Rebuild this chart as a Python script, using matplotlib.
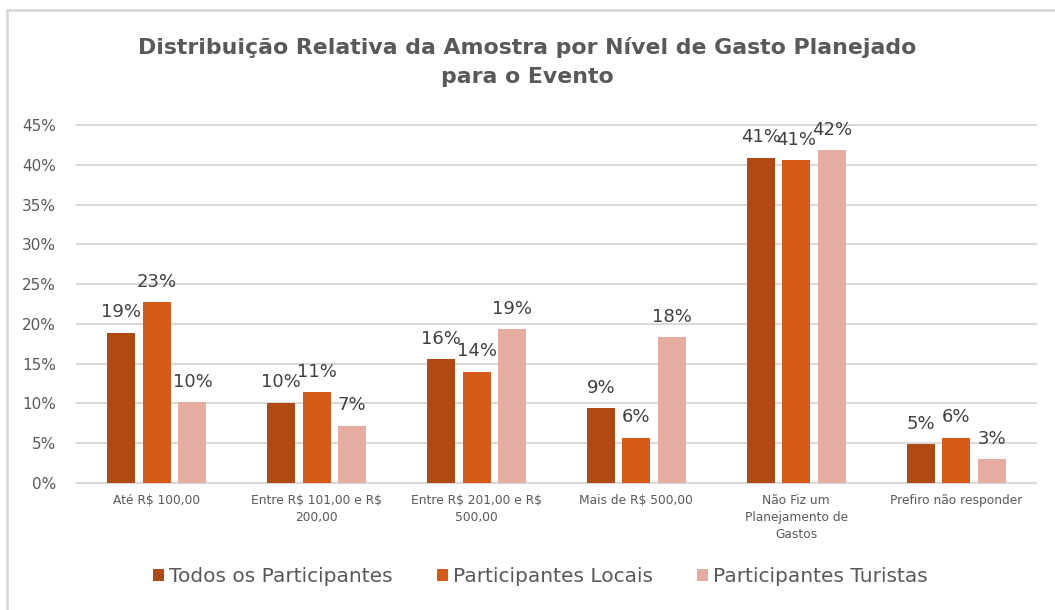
import matplotlib.pyplot as plt
import numpy as np
from matplotlib.lines import Line2D

categories = ["Até R$ 100,00", "Entre R$ 101,00 e R$\n200,00", "Entre R$ 201,00 e R$\n500,00",
              "Mais de R$ 500,00", "Não Fiz um\nPlanejamento de\nGastos", "Prefiro não responder"]
series_names = ["Todos os Participantes", "Participantes Locais", "Participantes Turistas"]
todos = [18.9, 10.1, 15.6, 9.4, 40.9, 4.9]
locais = [22.7, 11.4, 14.0, 5.7, 40.6, 5.7]
turistas = [10.2, 7.2, 19.3, 18.3, 41.8, 3.0]
y_ticks = [0, 5, 10, 15, 20, 25, 30, 35, 40, 45]

colors = ["#B04A12", "#D65A18", "#E5ACA2"]
text_gray = "#595959"
grid_gray = "#D9D9D9"

plt.rcParams['font.family'] = ['DejaVu Sans']

fig = plt.figure(figsize=(10.55, 6.10), dpi=100)
ax = fig.add_axes([77 / 1055, 1 - 483 / 610, (1036 - 77) / 1055, (483 - 125) / 610])

x = np.arange(len(categories))
width = 0.175
step = 0.222
for i, (vals, name) in enumerate(zip([todos, locais, turistas], series_names)):
    pos = x + (i - 1) * step
    ax.bar(pos, vals, width, color=colors[i], label=name, zorder=3)
    for px, v in zip(pos, vals):
        ax.annotate(f"{v:.0f}%", (px, v), xytext=(0, 11), textcoords='offset points',
                    ha='center', va='baseline', fontsize=13, color="#404040", zorder=4)

ax.set_xlim(-0.5, len(categories) - 0.5)
ax.set_ylim(0, 45)
ax.set_yticks(y_ticks)
ax.set_yticklabels([f"{t}%" for t in y_ticks])
ax.set_xticks(x)
# escape the "$" so it is not read as mathtext
ax.set_xticklabels([c.replace("$", r"\$") for c in categories], fontsize=8.8,
                   color=text_gray, linespacing=1.4)
ax.tick_params(axis='y', length=0, pad=15, labelsize=11, labelcolor=text_gray)
ax.tick_params(axis='x', length=0, pad=8)
ax.grid(axis='y', color=grid_gray, linewidth=1.5, zorder=0)
for gl in ax.get_ygridlines():
    gl.set_clip_on(False)
for s in ['top', 'right', 'left']:
    ax.spines[s].set_visible(False)
ax.spines['bottom'].set_color(grid_gray)
ax.spines['bottom'].set_linewidth(1.5)

fig.text(0.5, 1 - 47 / 610, "Distribuição Relativa da Amostra por Nível de Gasto Planejado",
         ha='center', va='center', fontsize=15.8, fontweight='bold', color=text_gray)
fig.text(0.5, 1 - 77 / 610, "para o Evento",
         ha='center', va='center', fontsize=15.8, fontweight='bold', color=text_gray)

fig.legend(loc='center', bbox_to_anchor=(0.512, 1 - 577 / 610), ncol=3, frameon=False,
           fontsize=14.5, labelcolor=text_gray, handlelength=0.55, handleheight=0.55,
           handletextpad=0.25, columnspacing=2.2)

# chart border (top and left only visible)
fig.add_artist(Line2D([7 / 1055, 1], [1 - 10 / 610, 1 - 10 / 610], color=grid_gray, linewidth=2))
fig.add_artist(Line2D([7 / 1055, 7 / 1055], [0, 1 - 10 / 610], color=grid_gray, linewidth=2))

fig.savefig("out.png", dpi=100, facecolor='white')
